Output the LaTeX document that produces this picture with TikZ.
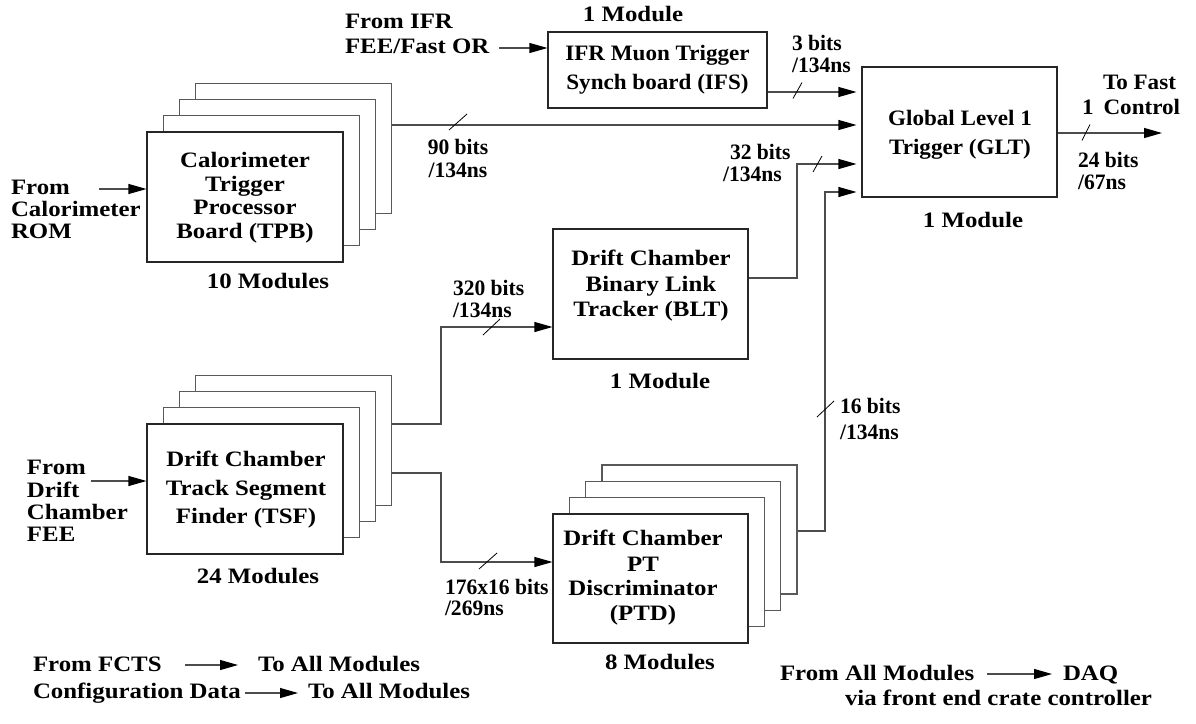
\documentclass[tikz,border=0pt]{standalone}
\usepackage{fontspec}
\setmainfont{Liberation Serif}
\newfontfamily\fa{Liberation Serif}[FakeStretch=1.13]
\newfontfamily\fb{Liberation Serif}[FakeStretch=1.05]
\newfontfamily\fc{Liberation Serif}[FakeStretch=0.98]
\usetikzlibrary{arrows.meta,calc}
\tikzset{
  lbl/.style={font=\fa\fontsize{22}{22}\selectfont\bfseries, inner sep=0pt, outer sep=0pt},
  bus/.style={lbl, font=\fc\fontsize{22}{22}\selectfont\bfseries},
  box/.style={draw=black!85, line width=1.1pt, fill=white, inner sep=0pt},
  backbox/.style={box, draw=black!65},
  conn/.style={draw=black!70, line width=1.1pt},
  arr/.style={conn, -{Triangle[length=18pt,width=10pt,color=black]}},
  tick/.style={draw=black, line width=0.8pt},
}
\newcommand\bitslash[3]{\draw[tick] (#1-#3/2,#2+8) -- (#1+#3/2,#2-8);}
\begin{document}
\begin{tikzpicture}[x=1pt,y=-1pt]
\useasboundingbox (0,0) rectangle (1196,723);

% ---- stacked boxes: TPB ----
\foreach \i/\n in {3/tpbc,2/tpbb,1/tpba}
  \node[backbox, minimum width=196pt, minimum height=130pt] (\n) at (245+16.25*\i,197-16.25*\i) {};
\node[box, minimum width=196pt, minimum height=130pt] (tpb) at (245,197) {};
\node[lbl, align=center, anchor=north, font=\fa\fontsize{22}{23.5}\selectfont\bfseries] (tpbt) at (245,152.5) {Calorimeter\\Trigger\\Processor\\Board (TPB)};
\node[lbl, anchor=base] (tpbm) at (268,288) {10 Modules};

% ---- stacked boxes: TSF ----
\foreach \i/\n in {3/tsfc,2/tsfb,1/tsfa}
  \node[backbox, minimum width=196pt, minimum height=130pt] (\n) at (245+16.25*\i,489-16.25*\i) {};
\node[box, minimum width=196pt, minimum height=130pt] (tsf) at (245,489) {};
\node[lbl, align=center, anchor=north, font=\fa\fontsize{22}{28.5}\selectfont\bfseries] (tsft) at (246,451.5) {Drift Chamber\\Track Segment\\Finder (TSF)};
\node[lbl, anchor=base] (tsfm) at (258,583) {24 Modules};

% ---- stacked boxes: PTD ----
\foreach \i/\n in {3/ptdc,2/ptdb,1/ptda}
  \node[backbox, minimum width=195pt, minimum height=129pt] (\n) at (650.5+16.33*\i,578.5-16.33*\i) {};
\node[box, minimum width=195pt, minimum height=129pt] (ptd) at (650.5,578.5) {};
\node[lbl, align=center, anchor=north, font=\fa\fontsize{22}{25}\selectfont\bfseries] (ptdt) at (643,530.5) {Drift Chamber\\PT\\Discriminator\\(PTD)};
\node[lbl, anchor=base] (ptdm) at (660,669) {8 Modules};

% ---- single boxes ----
\node[box, minimum width=219pt, minimum height=76pt] (ifs) at (657.5,70) {};
\node[lbl, align=center, anchor=north, font=\fb\fontsize{22}{29}\selectfont\bfseries] (ifst) at (657.5,45.5) {IFR Muon Trigger\\Synch board (IFS)};
\node[lbl, anchor=base] (ifsm) at (633,21) {1 Module};

\node[box, minimum width=195pt, minimum height=130pt] (glt) at (959.5,132) {};
\node[lbl, align=center, anchor=north, font=\fb\fontsize{22}{29}\selectfont\bfseries] (gltt) at (960,110.5) {Global Level 1\\Trigger (GLT)};
\node[lbl, anchor=base] (gltm) at (973,227) {1 Module};

\node[box, minimum width=195pt, minimum height=130pt] (blt) at (650.5,294) {};
\node[lbl, align=center, anchor=north, font=\fa\fontsize{22}{25.5}\selectfont\bfseries] (bltt) at (651,250.5) {Drift Chamber\\Binary Link\\Tracker (BLT)};
\node[lbl, anchor=base] (bltm) at (660,388) {1 Module};

% ---- input labels ----
\node[lbl, align=left, anchor=north west] (calin) at (11,180.5) {From\\Calorimeter\\ROM};
\node[lbl, align=left, anchor=north west, font=\fa\fontsize{22}{25}\selectfont\bfseries] (ifrin) at (345,14.5) {From IFR\\FEE/Fast OR};
\node[lbl, align=left, anchor=north west, font=\fa\fontsize{22}{22.3}\selectfont\bfseries] (dcin) at (27,460.5) {From\\Drift\\Chamber\\FEE};

\coordinate (calsrc) at (99,189);
\coordinate (ifrsrc) at (499,48);
\coordinate (dcsrc) at (91,481);
\draw[arr] (calsrc) -- (tpb.west |- calsrc);
\draw[arr] (ifrsrc) -- (ifs.west |- ifrsrc);
\draw[arr] (dcsrc) -- (tsf.west |- dcsrc);

% ---- connectors ----
\draw[arr, shorten >=5pt] (ifs.east |- 0,92) -- (glt.west |- 0,92);
\draw[arr, shorten >=5pt] (tpbc.east |- 0,125) -- (glt.west |- 0,125);
\draw[arr, shorten >=5pt] (blt.east |- 0,278) -| (797,164) -- (glt.west |- 0,164);
\draw[arr, shorten >=5pt] (ptdc.east |- 0,531) -| (825,192) -- (glt.west |- 0,192);
\draw[arr] (tsfc.east |- 0,424) -| (441,327) -- (blt.west |- 0,327);
\draw[arr] (tsfc.east |- 0,473) -| (441,562) -- (ptd.west |- 0,562);
\coordinate (fastctl) at (1162,133);
\draw[arr] (glt.east |- 0,133) -- (fastctl);

% ---- bit-width marks ----
\bitslash{458}{122}{18}
\bitslash{797.5}{90.5}{9}
\bitslash{817.5}{164}{9}
\bitslash{1086}{132.5}{8}
\bitslash{491.5}{327}{17}
\bitslash{488}{561}{18}
\bitslash{825.5}{409}{17}

% ---- bus labels ----
\node[bus, align=left, anchor=north west] (l3) at (792,35.5) {3 bits\\/134ns};
\node[bus, align=center, anchor=north, font=\fc\fontsize{22}{23}\selectfont\bfseries] (l90) at (458,139.5) {90 bits\\/134ns};
\node[bus, align=left, anchor=north west] (l32) at (723,144.5) {\hspace*{7pt}32 bits\\/134ns};
\node[bus, align=left, anchor=north west] (l24) at (1078,152.5) {24 bits\\/67ns};
\node[lbl, align=left, anchor=north west, font=\fb\fontsize{22}{25}\selectfont\bfseries] (lfast) at (1082,75.5) {\hspace*{21pt}To Fast\\1\hspace*{10pt}Control};
\node[bus, align=left, anchor=north west] (l320) at (453,280.5) {320 bits\\/134ns};
\node[bus, align=left, anchor=north west, font=\fc\fontsize{22}{20.5}\selectfont\bfseries] (l176) at (445,579.5) {176x16 bits\\/269ns};
\node[bus, align=left, anchor=north west, font=\fc\fontsize{22}{26}\selectfont\bfseries] (l16) at (840,398.5) {16 bits\\/134ns};

% ---- bottom legend ----
\node[lbl, anchor=base west] (fcts) at (33,671) {From FCTS};
\node[lbl, anchor=base west] (toall1) at (258,671) {To All Modules};
\node[lbl, anchor=base west] (cfg) at (33,698) {Configuration Data};
\node[lbl, anchor=base west] (toall2) at (308,698) {To All Modules};
\node[lbl, anchor=base west] (fromall) at (780,680) {From All Modules};
\node[lbl, anchor=base west] (daq) at (1063,680) {DAQ};
\node[lbl, anchor=base west] (via) at (845,705) {via front end crate controller};
\coordinate (a1s) at (185,665); \coordinate (a1e) at (238,665);
\coordinate (a2s) at (245,693); \coordinate (a2e) at (298,693);
\coordinate (a3s) at (987,674); \coordinate (a3e) at (1052,674);
\draw[arr] (a1s) -- (a1e);
\draw[arr] (a2s) -- (a2e);
\draw[arr] (a3s) -- (a3e);
\end{tikzpicture}
\end{document}
